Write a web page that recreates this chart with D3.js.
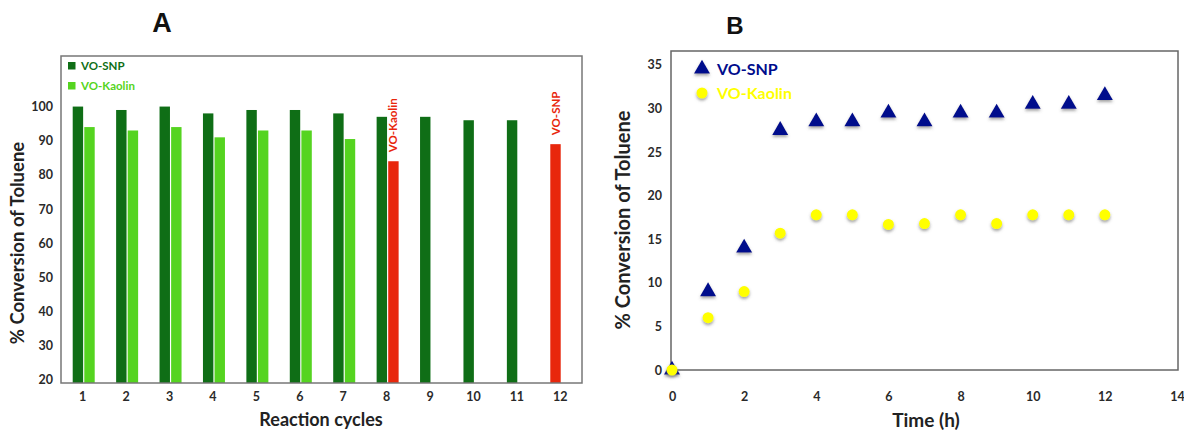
<!DOCTYPE html>
<html><head><meta charset="utf-8">
<script src="https://cdn.jsdelivr.net/npm/d3@7"></script>
<style>
html,body{margin:0;padding:0;background:#fff;}
svg{display:block;}
text{font-family:Lato,"Open Sans",sans-serif;font-weight:bold;}
</style></head>
<body>
<svg id="chart" width="1184" height="433"></svg>
<script>
// ---------- Panel A data ----------
const cycles = [1,2,3,4,5,6,7,8,9,10,11,12];
const snpValues =    [100, 99, 100, 98, 99, 99, 98, 97, 97, 96, 96, null];
const kaolinValues = [94, 93, 94, 91, 93, 93, 90.5, null, null, null, null, null];
const highlightCycles = [8, 12];
const highlightSeries = ["kaolin", "snp"];
const highlightValues = [84, 89];
const highlightLabels = ["VO-Kaolin", "VO-SNP"];
const yTicksA = [20,30,40,50,60,70,80,90,100];
const seriesNamesA = ["VO-SNP", "VO-Kaolin"];

// ---------- Panel B data ----------
const timeH = [0,1,2,3,4,5,6,7,8,9,10,11,12];
const snpConv =    [0, 9, 14, 27.5, 28.5, 28.5, 29.5, 28.5, 29.5, 29.5, 30.5, 30.5, 31.5];
const kaolinConv = [0, 6, 9, 15.7, 17.8, 17.8, 16.7, 16.8, 17.8, 16.8, 17.8, 17.8, 17.8];
const xTicksB = [0,2,4,6,8,10,12,14];
const yTicksB = [0,5,10,15,20,25,30,35];
const seriesNamesB = ["VO-SNP", "VO-Kaolin"];

const svg = d3.select("#chart");
const defs = svg.append("defs");
const f = defs.append("filter").attr("id","shadow").attr("x","-50%").attr("y","-50%").attr("width","200%").attr("height","200%");
f.append("feDropShadow").attr("dx",0).attr("dy",2).attr("stdDeviation",1.6).attr("flood-color","#555").attr("flood-opacity",0.55);

const darkGreen = "#0f6e16", lightGreen = "#55d420", red = "#e8270c";
const navy = "#000c8c", yellow = "#ffff00";
const tickColor = "#2a2a2a";

// ================= Panel A =================
const A = {left:61, right:582, top:56, bottom:383};
const xA = d3.scaleBand().domain(cycles).range([A.left, A.right]).paddingInner(0).paddingOuter(0);
const yA = d3.scaleLinear().domain([19.1, 114.8]).range([A.bottom, A.top]);
const bw = xA.bandwidth();
const xSub = d3.scaleBand().domain(["snp","kaolin"]).range([bw/2 - 10, bw/2 + 12]).paddingInner(0.1);

const gA = svg.append("g");
const barsSNP = cycles.map((c,i)=>({c, s:"snp", v:snpValues[i]})).filter(d=>d.v!=null);
const barsK = cycles.map((c,i)=>({c, s:"kaolin", v:kaolinValues[i]})).filter(d=>d.v!=null);
gA.selectAll("rect.snp").data(barsSNP).join("rect")
  .attr("x", d=>xA(d.c)+xSub(d.s)).attr("width", xSub.bandwidth())
  .attr("y", d=>yA(d.v)).attr("height", d=>yA(19.1)-yA(d.v))
  .attr("fill", darkGreen);
gA.selectAll("rect.k").data(barsK).join("rect")
  .attr("x", d=>xA(d.c)+xSub(d.s)).attr("width", xSub.bandwidth())
  .attr("y", d=>yA(d.v)).attr("height", d=>yA(19.1)-yA(d.v))
  .attr("fill", lightGreen);
const hl = highlightCycles.map((c,i)=>({c, s:highlightSeries[i], v:highlightValues[i], label:highlightLabels[i]}));
gA.selectAll("rect.hl").data(hl).join("rect")
  .attr("x", d=>xA(d.c)+xSub(d.s)).attr("width", xSub.bandwidth())
  .attr("y", d=>yA(d.v)).attr("height", d=>yA(19.1)-yA(d.v))
  .attr("fill", red);
gA.selectAll("text.hl").data(hl).join("text")
  .attr("transform", d=>`translate(${xA(d.c)+xSub(d.s)+xSub.bandwidth()/2+4},${yA(d.v)-9}) rotate(-90)`)
  .attr("text-anchor","start").attr("fill", red).style("font-size","11.5px")
  .text(d=>d.label);

gA.append("rect").attr("x",A.left).attr("y",A.top).attr("width",A.right-A.left).attr("height",A.bottom-A.top)
  .attr("fill","none").attr("stroke","#777").attr("stroke-width",1.5);

const axYA = gA.append("g").attr("transform",`translate(${A.left},0)`)
  .call(d3.axisLeft(yA).tickValues(yTicksA).tickSize(0).tickPadding(8));
axYA.select(".domain").remove();
axYA.selectAll("text").attr("fill",tickColor).style("font-size","12.5px").style("font-family","Lato,sans-serif");
const axXA = gA.append("g").attr("transform",`translate(0,${A.bottom})`)
  .call(d3.axisBottom(xA).tickSize(0).tickPadding(9));
axXA.select(".domain").remove();
axXA.selectAll("text").attr("fill",tickColor).style("font-size","12.5px").style("font-family","Lato,sans-serif");

const legA = gA.append("g");
[darkGreen, lightGreen].forEach((col,i)=>{
  legA.append("rect").attr("x",68).attr("y",66+i*20-4).attr("width",7.5).attr("height",7.5).attr("fill",col);
  legA.append("text").attr("x",81).attr("y",66+i*20+4).attr("fill",col).style("font-size","11.5px").text(seriesNamesA[i]);
});

svg.append("text").attr("x",162).attr("y",32).attr("text-anchor","middle").attr("fill","#111")
  .style("font-family","'Liberation Sans',Arial,sans-serif").style("font-size","27px").text("A");
svg.append("text").attr("transform",`translate(24,${243}) rotate(-90)`).attr("text-anchor","middle").attr("fill","#222")
  .style("font-size","18.5px").text("% Conversion of Toluene");
svg.append("text").attr("x",321).attr("y",426).attr("text-anchor","middle").attr("fill","#222")
  .style("font-size","18px").text("Reaction cycles");

// ================= Panel B =================
const B = {left:671, right:1178, top:51, bottom:370};
const xB = d3.scaleLinear().domain([0,14]).range([672,1177]);
const yB = d3.scaleLinear().domain([0,36.6]).range([B.bottom, B.top]);
const gB = svg.append("g");
gB.append("rect").attr("x",B.left).attr("y",B.top).attr("width",B.right-B.left).attr("height",B.bottom-B.top)
  .attr("fill","none").attr("stroke","#666").attr("stroke-width",1.5);

const axYB = gB.append("g").attr("transform",`translate(${B.left},0)`)
  .call(d3.axisLeft(yB).tickValues(yTicksB).tickSize(0).tickPadding(9));
axYB.select(".domain").remove();
axYB.selectAll("text").attr("fill",tickColor).style("font-size","12.5px").style("font-family","Lato,sans-serif");
const axXB = gB.append("g").attr("transform",`translate(0,${B.bottom})`)
  .call(d3.axisBottom(xB).tickValues(xTicksB).tickSize(0).tickPadding(22));
axXB.select(".domain").remove();
axXB.selectAll("text").attr("fill",tickColor).style("font-size","12.5px").style("font-family","Lato,sans-serif");

const tri = d3.symbol().type(d3.symbolTriangle).size(110);
const ptsS = timeH.map((t,i)=>({t, v:snpConv[i]}));
const ptsK = timeH.map((t,i)=>({t, v:kaolinConv[i]}));
gB.selectAll("path.s").data(ptsS).join("path")
  .attr("d", tri).attr("transform", d=>`translate(${xB(d.t)},${yB(d.v)})`)
  .attr("fill", navy).attr("filter","url(#shadow)");
gB.selectAll("circle.k").data(ptsK).join("circle")
  .attr("cx", d=>xB(d.t)).attr("cy", d=>yB(d.v)).attr("r",5.5)
  .attr("fill", yellow).attr("filter","url(#shadow)");

gB.append("path").attr("d",tri).attr("transform","translate(702,69)").attr("fill",navy).attr("filter","url(#shadow)");
gB.append("text").attr("x",717).attr("y",75).attr("fill",navy).style("font-size","16px").text(seriesNamesB[0]);
gB.append("circle").attr("cx",702).attr("cy",93).attr("r",5.5).attr("fill",yellow).attr("filter","url(#shadow)");
gB.append("text").attr("x",717).attr("y",99).attr("fill",yellow).style("font-size","16px").text(seriesNamesB[1]);

svg.append("text").attr("x",735).attr("y",34).attr("text-anchor","middle").attr("fill","#111")
  .style("font-family","'Liberation Sans',Arial,sans-serif").style("font-size","24px").text("B");
svg.append("text").attr("transform",`translate(630,${220}) rotate(-90)`).attr("text-anchor","middle").attr("fill","#222")
  .style("font-size","20px").text("% Conversion of Toluene");
svg.append("text").attr("x",926).attr("y",427).attr("text-anchor","middle").attr("fill","#222")
  .style("font-size","19px").text("Time (h)");
</script>
</body></html>
